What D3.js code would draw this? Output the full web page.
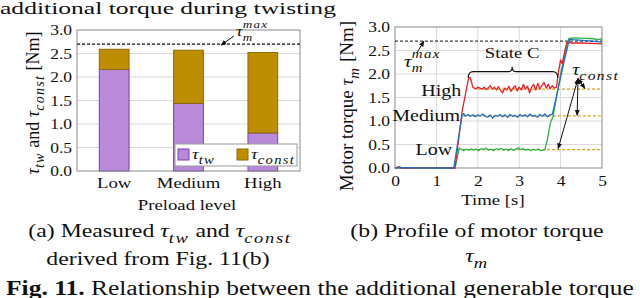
<!DOCTYPE html>
<html>
<head>
<meta charset="utf-8">
<script src="https://cdn.jsdelivr.net/npm/d3@7"></script>
<style>
  body { margin: 0; background: #fff; }
  svg { display: block; }
  text { font-family: "Liberation Serif", "Times New Roman", serif; fill: #111; }
</style>
</head>
<body>
<svg id="fig" width="640" height="298"></svg>
<script>
// ---- data: (a) bar chart
var levels = ["Low", "Medium", "High"];
var tauTw = [2.16, 1.44, 0.81];
var tauConst = [0.43, 1.13, 1.71];
var tauMax = 2.7;
var torqueTicks = [0, 0.5, 1, 1.5, 2, 2.5, 3];
var timeTicks = [0, 1, 2, 3, 4, 5];

// ---- data: (b) motor torque profiles
var tHigh = [0, 0.1, 0.15, 0.5, 1.0, 1.45, 1.62, 1.78, 1.82, 1.88, 1.95, 2.0, 2.05, 2.1, 2.15, 2.2, 2.25, 2.3, 2.35, 2.4, 2.45, 2.5, 2.55, 2.6, 2.65, 2.7, 2.75, 2.8, 2.85, 2.9, 2.95, 3.0, 3.05, 3.1, 3.15, 3.2, 3.25, 3.3, 3.35, 3.4, 3.45, 3.5, 3.55, 3.6, 3.65, 3.7, 3.75, 3.8, 3.85, 3.9, 3.95, 4.0, 4.04, 4.08, 4.15, 4.25, 4.5, 4.75, 5.0];
var vHigh = [0, 0.03, 0, 0, 0.01, 0, 1.2, 1.93, 1.92, 1.72, 1.68, 1.72, 1.7, 1.68, 1.72, 1.67, 1.7, 1.75, 1.68, 1.72, 1.66, 1.73, 1.65, 1.6, 1.7, 1.66, 1.74, 1.63, 1.7, 1.75, 1.64, 1.72, 1.66, 1.78, 1.68, 1.74, 1.6, 1.72, 1.78, 1.66, 1.8, 1.68, 1.76, 1.82, 1.7, 1.78, 1.69, 1.75, 1.7, 1.72, 2.05, 2.3, 2.22, 2.4, 2.68, 2.66, 2.66, 2.65, 2.64];
var tMedium = [0, 0.3, 0.6, 1.0, 1.42, 1.62, 1.66, 1.7, 1.76, 1.82, 1.88, 1.94, 2.0, 2.06, 2.12, 2.18, 2.24, 2.3, 2.36, 2.42, 2.48, 2.54, 2.6, 2.66, 2.72, 2.78, 2.84, 2.9, 2.96, 3.02, 3.08, 3.14, 3.2, 3.26, 3.32, 3.38, 3.44, 3.5, 3.56, 3.62, 3.68, 3.74, 3.8, 3.88, 3.98, 4.08, 4.18, 4.22, 4.3, 4.6, 5.0];
var vMedium = [0, 0.01, 0, 0, 0, 1.12, 1.16, 1.1, 1.14, 1.1, 1.13, 1.09, 1.13, 1.11, 1.15, 1.1, 1.08, 1.13, 1.06, 1.12, 1.1, 1.14, 1.09, 1.13, 1.08, 1.14, 1.1, 1.12, 1.08, 1.14, 1.1, 1.13, 1.09, 1.15, 1.1, 1.12, 1.08, 1.14, 1.1, 1.15, 1.09, 1.13, 1.14, 1.45, 1.85, 2.25, 2.62, 2.74, 2.73, 2.71, 2.68];
var tLow = [0, 0.1, 0.2, 0.6, 1.0, 1.45, 1.55, 1.6, 1.66, 1.72, 1.78, 1.84, 1.9, 1.96, 2.02, 2.08, 2.14, 2.2, 2.26, 2.32, 2.38, 2.44, 2.5, 2.56, 2.62, 2.68, 2.74, 2.8, 2.86, 2.92, 2.98, 3.04, 3.1, 3.16, 3.22, 3.28, 3.34, 3.4, 3.46, 3.52, 3.58, 3.62, 3.68, 3.75, 3.82, 3.9, 4.0, 4.1, 4.2, 4.3, 4.6, 4.8, 4.9, 5.0];
var vLow = [0, 0.02, 0, 0.01, 0, 0, 0.42, 0.4, 0.37, 0.4, 0.38, 0.41, 0.38, 0.4, 0.37, 0.41, 0.39, 0.42, 0.38, 0.4, 0.37, 0.41, 0.39, 0.42, 0.38, 0.4, 0.37, 0.41, 0.38, 0.4, 0.43, 0.39, 0.41, 0.38, 0.4, 0.37, 0.4, 0.38, 0.4, 0.37, 0.38, 0.39, 0.6, 0.95, 1.1, 1.5, 2.0, 2.4, 2.76, 2.77, 2.76, 2.75, 2.73, 2.75];
var constLevel = [0.39, 1.11, 1.68];   // Low, Medium, High
var constStart = [1.5, 1.64, 1.98];

var lineColor = { Low: "#2db34a", Medium: "#1f6fc4", High: "#ec2027" };
var SX = 1.25;   // the source figure is stretched horizontally

var svg = d3.select("#fig");
svg.append("defs").selectAll("marker").data(["arr"]).enter().append("marker")
    .attr("id", "arr").attr("viewBox", "0 0 10 10").attr("refX", 9).attr("refY", 5)
    .attr("markerWidth", 6).attr("markerHeight", 6).attr("orient", "auto-start-reverse")
    .append("path").attr("d", "M0,1L10,5L0,9z").attr("fill", "#111");

// script offsets / sizes: sub, sup, and the smaller stacked pair ssub/ssup
var scriptStyle = {
    sub:  { dy: 0.3,   k: 0.78 },
    sup:  { dy: -0.45, k: 0.78 },
    ssub: { dy: 0.3,   k: 0.7 },
    ssup: { dy: -0.55, k: 0.7, stack: true }
};

// text with tspans: parts = [[str, style]] where style in '', 'i', 'b' or a scriptStyle key
// anchoring is done by hand (tspans with dy confuse text-anchor)
// fitW: optional target width in px, overrides the horizontal stretch
function rich(g, x, y, parts, size, anchor, rot, fitW) {
    var holder = g.append("g");
    var t = holder.append("text").attr("font-size", size);
    var shift = 0, prev = null;
    parts.forEach(function(p) {
        var s = t.append("tspan").text(p[0]);
        var st = p[1] || "";
        var want = 0;
        var sc = scriptStyle[st];
        if (sc) {
            want = size * sc.dy;
            s.attr("font-size", size * sc.k).attr("font-style", "italic").attr("letter-spacing", size * 0.07);
            if (sc.stack && prev) s.attr("dx", -prev.node().getComputedTextLength());
        }
        if (st === "i") s.attr("font-style", "italic");
        if (st === "b") s.attr("font-weight", "bold");
        if (want !== shift) { s.attr("dy", want - shift); shift = want; }
        prev = s;
    });
    var w = t.node().getComputedTextLength();
    var sx = fitW ? fitW / w : SX;
    holder.attr("transform", "translate(" + x + "," + y + ")" + (rot ? " rotate(-90)" : " scale(" + sx + ",1)"));
    if (anchor === "middle") t.attr("x", -w / 2);
    if (anchor === "end") t.attr("x", -w);
    return t;
}

function mathTau(sub) { return [["τ", "i"], [sub, "sub"]]; }
var tauMaxParts = [["τ", "i"], ["m", "ssub"], ["max", "ssup"]];

function styleTicks(sel, dy) {
    sel.selectAll("text").each(function() {
        var t = d3.select(this);
        t.attr("font-family", null).attr("font-size", 14).attr("fill", "#111");
        if (dy) t.attr("dy", dy).attr("transform", "translate(" + t.attr("x") + ",0) scale(" + SX + ",1)").attr("x", 0);
        else t.attr("transform", "scale(" + SX + ",1)");
    });
}

// ================= (a) bar chart =================
var ga = svg.append("g");
var xa = d3.scaleBand().domain(levels).range([77, 300]).paddingInner(0.6).paddingOuter(0.3);
var ya = d3.scaleLinear().domain([0, 3]).range([171, 30]);

ga.selectAll(".grid").data(torqueTicks.slice(1, -1)).enter().append("line")
    .attr("x1", 77).attr("x2", 300).attr("y1", ya).attr("y2", ya)
    .attr("stroke", "#dadada").attr("stroke-width", 1);

var rows = levels.map(function(l, i) { return { level: l, tw: tauTw[i], c: tauConst[i] }; });
ga.selectAll(".tw").data(rows).enter().append("rect")
    .attr("x", function(d) { return xa(d.level); }).attr("width", xa.bandwidth())
    .attr("y", function(d) { return ya(d.tw); })
    .attr("height", function(d) { return ya(0) - ya(d.tw); })
    .attr("fill", "#b88ad9").attr("stroke", "#7b3fb5").attr("stroke-width", 1);
ga.selectAll(".cst").data(rows).enter().append("rect")
    .attr("x", function(d) { return xa(d.level); }).attr("width", xa.bandwidth())
    .attr("y", function(d) { return ya(d.tw + d.c); })
    .attr("height", function(d) { return ya(d.tw) - ya(d.tw + d.c); })
    .attr("fill", "#bf8e00").attr("stroke", "#8c6a08").attr("stroke-width", 1);

ga.append("rect").attr("x", 77).attr("y", 30).attr("width", 223).attr("height", 141)
    .attr("fill", "none").attr("stroke", "#8a8a8a");
ga.append("line").attr("x1", 77).attr("x2", 300).attr("y1", ya(tauMax)).attr("y2", ya(tauMax))
    .attr("stroke", "#111").attr("stroke-width", 1.2).attr("stroke-dasharray", "3,2");

var yAxA = d3.axisLeft(ya).tickValues(torqueTicks).tickFormat(d3.format(".1f")).tickSize(0).tickPadding(5);
ga.append("g").attr("transform", "translate(77,0)").call(yAxA)
    .call(function(g) { g.select(".domain").remove(); })
    .call(styleTicks, "0.34em");

levels.forEach(function(l) {
    rich(ga, xa(l) + xa.bandwidth() / 2, 188, [[l, ""]], 15, "middle");
});
rich(ga, 187, 210, [["Preload level", ""]], 15, "middle");
rich(ga, 39, 103, [["τ", "i"], ["tw", "sub"], [" and ", ""], ["τ", "i"], ["const", "sub"], [" [Nm]", ""]], 18, "middle", true);

// legend
ga.append("rect").attr("x", 175).attr("y", 144).attr("width", 122).attr("height", 22)
    .attr("fill", "#fff").attr("stroke", "#999");
ga.append("rect").attr("x", 178).attr("y", 149).attr("width", 11).attr("height", 11)
    .attr("fill", "#b88ad9").attr("stroke", "#7b3fb5");
ga.append("rect").attr("x", 237).attr("y", 149).attr("width", 11).attr("height", 11)
    .attr("fill", "#bf8e00").attr("stroke", "#8c6a08");
rich(ga, 192, 159, mathTau("tw"), 15, "start");
rich(ga, 251, 159, mathTau("const"), 15, "start");

// tau max annotation
rich(ga, 236, 36, tauMaxParts, 15, "start");
ga.append("line").attr("x1", 234).attr("y1", 36).attr("x2", 221).attr("y2", ya(tauMax) + 1)
    .attr("stroke", "#111").attr("stroke-width", 1).attr("marker-end", "url(#arr)");

// ================= (b) motor torque =================
var gb = svg.append("g");
var xb = d3.scaleLinear().domain([0, 5]).range([395, 602]);
var yb = d3.scaleLinear().domain([0, 3]).range([168, 27]);

gb.selectAll(".gx").data(timeTicks.slice(1, -1)).enter().append("line")
    .attr("x1", xb).attr("x2", xb).attr("y1", 27).attr("y2", 168).attr("stroke", "#dadada");
gb.selectAll(".gy").data(torqueTicks.slice(1, -1)).enter().append("line")
    .attr("x1", 395).attr("x2", 602).attr("y1", yb).attr("y2", yb).attr("stroke", "#dadada");
gb.append("rect").attr("x", 395).attr("y", 27).attr("width", 207).attr("height", 141)
    .attr("fill", "none").attr("stroke", "#8a8a8a");

gb.append("line").attr("x1", 395).attr("x2", 602).attr("y1", yb(tauMax)).attr("y2", yb(tauMax))
    .attr("stroke", "#111").attr("stroke-width", 1).attr("stroke-dasharray", "3,2");

// constant-torque reference lines
constLevel.forEach(function(v, i) {
    gb.append("line").attr("x1", xb(constStart[i])).attr("x2", 602).attr("y1", yb(v)).attr("y2", yb(v))
        .attr("stroke", "#d9a31a").attr("stroke-width", 1.2).attr("stroke-dasharray", "3,2");
});

var line = d3.line().x(function(d) { return xb(d[0]); }).y(function(d) { return yb(d[1]); });
var series = [
    { name: "Low", t: tLow, v: vLow },
    { name: "High", t: tHigh, v: vHigh },
    { name: "Medium", t: tMedium, v: vMedium }
];
series.forEach(function(s) {
    gb.append("path").datum(d3.zip(s.t, s.v)).attr("d", line)
        .attr("fill", "none").attr("stroke", lineColor[s.name]).attr("stroke-width", 1.3)
        .attr("stroke-linejoin", "round");
});

var yAxB = d3.axisLeft(yb).tickValues(torqueTicks).tickFormat(d3.format(".1f")).tickSize(0).tickPadding(5);
gb.append("g").attr("transform", "translate(395,0)").call(yAxB)
    .call(function(g) { g.select(".domain").remove(); })
    .call(styleTicks, "0.34em");
var xAxB = d3.axisBottom(xb).tickValues(timeTicks).tickFormat(d3.format("d")).tickSize(0).tickPadding(8);
gb.append("g").attr("transform", "translate(0,168)").call(xAxB)
    .call(function(g) { g.select(".domain").remove(); })
    .call(styleTicks, null);
rich(gb, 493, 205, [["Time [s]", ""]], 15, "middle");
rich(gb, 353, 106, [["Motor torque ", ""], ["τ", "i"], ["m", "sub"], [" [Nm]", ""]], 19, "middle", true);

// series labels
rich(gb, xb(1.6), yb(1.66) + 6, [["High", ""]], 16, "end").attr("fill", lineColor.High);
rich(gb, xb(1.57), yb(1.12) + 6, [["Medium", ""]], 16, "end").attr("fill", lineColor.Medium);
rich(gb, xb(1.38), yb(0.4) + 6, [["Low", ""]], 16, "end").attr("fill", "#3cbf5c");

// State C brace
var bx0 = xb(1.77), bx1 = xb(3.93), bm = xb(2.83), by = yb(2.05);
gb.append("path")
    .attr("d", "M" + bx0 + "," + (by + 6) + " Q" + bx0 + "," + by + " " + (bx0 + 5) + "," + by +
        " L" + (bm - 4) + "," + by + " Q" + bm + "," + by + " " + bm + "," + (by - 5) +
        " Q" + bm + "," + by + " " + (bm + 4) + "," + by +
        " L" + (bx1 - 5) + "," + by + " Q" + bx1 + "," + by + " " + bx1 + "," + (by + 6))
    .attr("fill", "none").attr("stroke", "#111").attr("stroke-width", 1.1);
rich(gb, bm, yb(2.33), [["State C", ""]], 15, "middle");

// tau max label
rich(gb, xb(0.22), yb(2.15), tauMaxParts, 17, "start");
gb.append("line").attr("x1", xb(0.53)).attr("y1", yb(2.45)).attr("x2", xb(0.7)).attr("y2", yb(2.7))
    .attr("stroke", "#111").attr("stroke-width", 1).attr("marker-end", "url(#arr)");

// tau const label + arrows
rich(gb, xb(4.28), yb(1.97), mathTau("const"), 16, "start").attr("fill", "#a5790d");
[[4.59, 1.69], [4.4, 1.12], [3.94, 0.41]].forEach(function(p) {
    gb.append("line").attr("x1", xb(4.42)).attr("y1", yb(1.9)).attr("x2", xb(p[0])).attr("y2", yb(p[1]))
        .attr("stroke", "#111").attr("stroke-width", 1)
        .attr("marker-start", "url(#arr)").attr("marker-end", "url(#arr)");
});

// ================= captions =================
var gc = svg.append("g");
rich(gc, 0, 14, [["additional torque during twisting", ""]], 16, "start", false, 336);
rich(gc, 160, 237, [["(a) Measured ", ""], ["τ", "i"], ["tw", "sub"], [" and ", ""], ["τ", "i"], ["const", "sub"]], 19, "middle");
rich(gc, 158, 265, [["derived from Fig. 11(b)", ""]], 19, "middle");
rich(gc, 477, 237, [["(b) Profile of motor torque", ""]], 19, "middle");
rich(gc, 477, 262, mathTau("m"), 19, "middle");
rich(gc, 6, 295, [["Fig. 11.", "b"], [" Relationship between the additional generable torque", ""]], 20, "start", false, 628);
</script>
</body>
</html>
